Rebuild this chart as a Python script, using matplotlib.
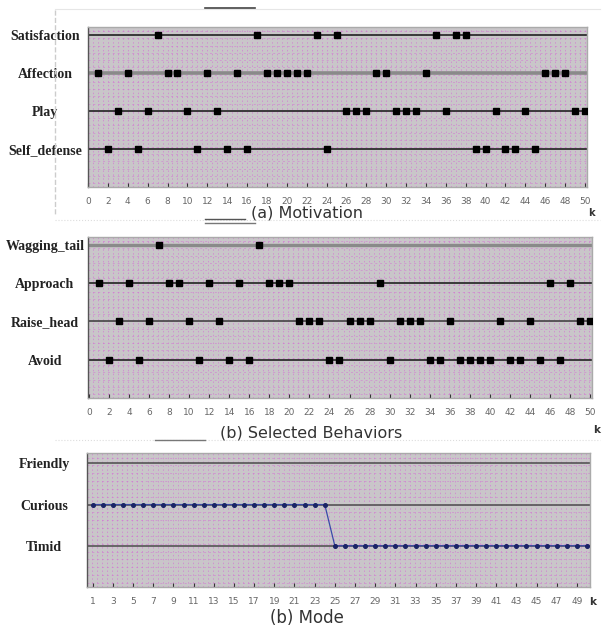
"""Motivation / selected behaviour / mode time lines (three stacked panels)"""
import numpy as np
import matplotlib
matplotlib.use('Agg')
import matplotlib.pyplot as plt
from matplotlib.lines import Line2D

# ---- data ----
motivations = ['Satisfaction', 'Affection', 'Play', 'Self_defense']
satisfaction_k = [7, 17, 23, 25, 35, 37, 38]
affection_k = [1, 4, 8, 9, 12, 15, 18, 19, 20, 21, 22, 29, 30, 34, 46, 47, 48]
play_k = [3, 6, 10, 13, 26, 27, 28, 31, 32, 33, 36, 41, 44, 49, 50]
self_defense_k = [2, 5, 11, 14, 16, 24, 39, 40, 42, 43, 45]

behaviors = ['Wagging_tail', 'Approach', 'Raise_head', 'Avoid']
wagging_k = [7, 17]
approach_k = [1, 4, 8, 9, 12, 15, 18, 19, 20, 29, 46, 48]
raise_head_k = [3, 6, 10, 13, 21, 22, 23, 26, 27, 28, 31, 32, 33, 36, 41, 44, 49, 50]
avoid_k = [2, 5, 11, 14, 16, 24, 25, 30, 34, 35, 37, 38, 39, 40, 42, 43, 45, 47]

modes = ['Friendly', 'Curious', 'Timid']
mode_k = list(range(1, 51))
mode_seq = ['Curious'] * 24 + ['Timid'] * 26

ticks_ab = list(range(0, 51, 2))
ticks_mode = list(range(1, 50, 2))

BG = '#c9c6c9'
GRID = '#d46ed4'
LABEL_FONT = dict(family='Liberation Serif', fontweight='bold', fontsize=10, color='#222222')

fig = plt.figure(figsize=(6.02, 6.32), dpi=100)
fig.patch.set_facecolor('white')


def W(px):
    return px / 602.0


def H(py):
    return 1 - py / 632.0


def style_axes(ax, xlim, ylim, xticks):
    ax.set_facecolor(BG)
    ax.set_xlim(*xlim)
    ax.set_ylim(*ylim)
    # magenta dotted texture of the scanned chart
    for gx in np.arange(xlim[0], xlim[1], 0.5):
        ax.axvline(gx, color=GRID, lw=0.7, ls=(0, (1.5, 2.5)), alpha=0.6, zorder=0)
    for gy in np.arange(0.1, ylim[1], 0.19):
        ax.axhline(gy, color=GRID, lw=0.7, ls=(0, (2, 3)), alpha=0.5, zorder=0)
    ax.set_xticks(xticks)
    ax.set_xticklabels([str(t) for t in xticks])
    ax.tick_params(axis='x', direction='in', length=3, width=0.8, color='#333333',
                   labelsize=6.5, labelcolor='#666666', pad=7)
    ax.tick_params(axis='y', length=0, pad=31)
    for s in ax.spines.values():
        s.set_color('#aaaaaa')
        s.set_linewidth(1.0)
    ax.spines['left'].set_color('#555555')


def center_labels(ax, names, levels):
    ax.set_yticks(levels)
    ax.set_yticklabels(names)
    for lab in ax.get_yticklabels():
        lab.set_ha('center')
        lab.set(**LABEL_FONT)


# ---- (a) Motivation ----
ax1 = fig.add_axes([W(88), H(187), W(587 - 88), 160 / 632.0])
style_axes(ax1, (0, 50.2), (0, 4.2), ticks_ab)
rows1 = [satisfaction_k, affection_k, play_k, self_defense_k]
levels1 = [4, 3, 2, 1]
line_cols1 = ['#222222', '#8a8a8a', '#222222', '#222222']
line_w1 = [1.2, 2.6, 1.2, 1.2]
for ks, lev, lc, lw in zip(rows1, levels1, line_cols1, line_w1):
    ax1.axhline(lev, color=lc, lw=lw, zorder=2)
    ax1.plot(ks, [lev] * len(ks), 's', color='black', ms=4.6, zorder=3)
center_labels(ax1, motivations, levels1)

# ---- (b) Selected Behaviors ----
ax2 = fig.add_axes([W(88), H(398), W(592 - 88), 161 / 632.0])
style_axes(ax2, (-0.1, 50.2), (0, 4.2), ticks_ab)
rows2 = [wagging_k, approach_k, raise_head_k, avoid_k]
line_cols2 = ['#8a8a8a', '#222222', '#444444', '#222222']
line_w2 = [2.4, 1.2, 1.2, 1.2]
for ks, lev, lc, lw in zip(rows2, levels1, line_cols2, line_w2):
    ax2.axhline(lev, color=lc, lw=lw, zorder=2)
    ax2.plot(ks, [lev] * len(ks), 's', color='black', ms=4.6, zorder=3)
center_labels(ax2, behaviors, levels1)

# ---- (b) Mode ----
ax3 = fig.add_axes([W(87), H(587), W(590 - 87), 134 / 632.0])
style_axes(ax3, (0.43, 50.3), (0, 3.25), ticks_mode)
levels3 = {'Friendly': 3, 'Curious': 2, 'Timid': 1}
for m in modes:
    ax3.axhline(levels3[m], color='#555555', lw=1.2, zorder=2)
ax3.plot(mode_k, [levels3[m] for m in mode_seq], '-o', color='#3a4aaa', lw=0.9,
         ms=2.6, mfc='#1a2366', mec='#1a2366', zorder=3)
center_labels(ax3, modes, [levels3[m] for m in modes])

# ---- captions ----
fig.text(W(307), H(213), '(a) Motivation', ha='center', va='center', fontsize=11.5, color='#333333')
fig.text(W(311), H(433), '(b) Selected Behaviors', ha='center', va='center', fontsize=11.5, color='#333333')
fig.text(W(307), H(618), '(b) Mode', ha='center', va='center', fontsize=12, color='#333333')
fig.text(W(591), H(213), 'k', ha='center', va='center', fontsize=7, color='#333333', fontweight='bold')
fig.text(W(597), H(430), 'k', ha='center', va='center', fontsize=7.5, color='#333333', fontweight='bold')
fig.text(W(593), H(602), 'k', ha='center', va='center', fontsize=7.5, color='#333333', fontweight='bold')

# scan frame lines
frame = [
    ([55, 55], [10, 215], '#cccccc', 1.0, '--'),
    ([55, 600], [9, 9], '#e6e6e6', 0.8, '-'),
    ([205, 255], [8, 8], '#444444', 1.2, '-'),
    ([55, 600], [220, 220], '#dddddd', 0.8, ':'),
    ([205, 245], [219, 219], '#555555', 1.0, '-'),
    ([205, 255], [223, 223], '#777777', 1.0, '-'),
    ([55, 600], [440, 440], '#dddddd', 0.8, ':'),
    ([155, 205], [440, 440], '#777777', 1.0, '-'),
]
for xs, ys, c, lw, ls in frame:
    fig.add_artist(Line2D([W(x) for x in xs], [H(y) for y in ys], color=c, lw=lw, ls=ls))

fig.savefig('out.png', dpi=100, facecolor='white')
